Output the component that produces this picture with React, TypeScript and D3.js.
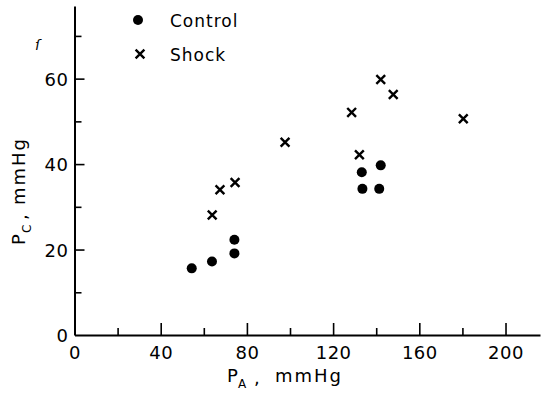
import React, { useRef, useEffect } from 'react';
import * as d3 from 'd3';

// P_A (mmHg) vs P_C (mmHg)
const controlPA = [54.4, 63.8, 74.2, 74.2, 133.3, 142.1, 133.6, 141.4];
const controlPC = [15.6, 17.2, 22.3, 19.1, 38.1, 39.7, 34.2, 34.2];

const shockPA = [63.9, 67.5, 74.5, 97.7, 128.6, 132.2, 142.1, 147.9, 180.4];
const shockPC = [28.1, 34.0, 35.7, 45.1, 52.1, 42.2, 59.8, 56.3, 50.6];

const xTicks = [0, 40, 80, 120, 160, 200];
const yTicks = [0, 20, 40, 60];

const FONT = 'DejaVu Sans, Liberation Sans, sans-serif';

function App() {
  const svgRef = useRef<SVGSVGElement>(null);

  useEffect(() => {
    const svg = d3.select(svgRef.current);
    svg.selectAll('*').remove();

    const x = d3.scaleLinear().domain([0, 216]).range([74.5, 540]);
    const y = d3.scaleLinear().domain([0, 77]).range([335, 6]);

    // axes
    const xAxis = svg.append('g').attr('transform', `translate(0,${y(0)})`);
    xAxis.call(
      d3.axisBottom(x)
        .tickValues(d3.range(0, 216, 20))
        .tickSize(0)
        .tickFormat(() => '')
    );
    xAxis.select('.domain').attr('stroke', '#000').attr('stroke-width', 2);
    xAxis.selectAll('.tick line')
      .attr('y2', (d: any) => (d % 40 === 0 ? -12 : -7))
      .attr('stroke', '#000')
      .attr('stroke-width', 1.6);
    xAxis.selectAll('.tick')
      .append('text')
      .attr('y', 24)
      .attr('fill', '#000')
      .attr('font-family', FONT)
      .attr('font-size', 18)
      .attr('letter-spacing', 0.5)
      .attr('text-anchor', 'middle')
      .text((d: any) => (xTicks.includes(d) ? String(d) : ''));

    const yAxis = svg.append('g').attr('transform', `translate(${x(0)},0)`);
    yAxis.call(
      d3.axisLeft(y)
        .tickValues(d3.range(0, 78, 10))
        .tickSize(0)
        .tickFormat(() => '')
    );
    yAxis.select('.domain').attr('stroke', '#000').attr('stroke-width', 2);
    yAxis.selectAll('.tick line')
      .attr('x2', (d: any) => (d === 0 ? 0 : d % 20 === 0 ? 10 : 7))
      .attr('stroke', '#000')
      .attr('stroke-width', 1.6);
    yAxis.selectAll('.tick')
      .append('text')
      .attr('x', -6)
      .attr('dy', '0.36em')
      .attr('fill', '#000')
      .attr('font-family', FONT)
      .attr('font-size', 18)
      .attr('letter-spacing', 0.5)
      .attr('text-anchor', 'end')
      .text((d: any) => (yTicks.includes(d) ? String(d) : ''));

    // control: filled dots
    svg.append('g')
      .selectAll('circle')
      .data(controlPA)
      .enter()
      .append('circle')
      .attr('cx', d => x(d))
      .attr('cy', (d, i) => y(controlPC[i]))
      .attr('r', 5)
      .attr('fill', '#000');

    // shock: crosses
    const cross = d3.symbol().type(d3.symbolX).size(52);
    svg.append('g')
      .selectAll('path')
      .data(shockPA)
      .enter()
      .append('path')
      .attr('d', cross)
      .attr('transform', (d, i) => `translate(${x(d)},${y(shockPC[i])})`)
      .attr('fill', 'none')
      .attr('stroke', '#000')
      .attr('stroke-width', 2.4);

    // legend
    const legend = svg.append('g');
    legend.append('circle').attr('cx', 138).attr('cy', 20).attr('r', 5).attr('fill', '#000');
    legend.append('path')
      .attr('d', cross)
      .attr('transform', 'translate(140,54)')
      .attr('fill', 'none')
      .attr('stroke', '#000')
      .attr('stroke-width', 2.4);
    legend.append('text')
      .attr('x', 170).attr('y', 27)
      .attr('font-family', FONT).attr('font-size', 17).attr('letter-spacing', 1)
      .text('Control');
    legend.append('text')
      .attr('x', 170).attr('y', 61)
      .attr('font-family', FONT).attr('font-size', 17).attr('letter-spacing', 1)
      .text('Shock');

    // axis titles
    const xt = svg.append('g').attr('font-family', FONT).attr('font-size', 18);
    xt.append('text').attr('x', 227).attr('y', 382).text('P');
    xt.append('text').attr('x', 238).attr('y', 388).attr('font-size', 12).text('A');
    xt.append('text').attr('x', 254).attr('y', 384).text(',');
    xt.append('text').attr('x', 275).attr('y', 382).attr('letter-spacing', 2).text('mmHg');

    const yt = svg.append('g')
      .attr('transform', 'translate(25,0) rotate(-90)')
      .attr('font-family', FONT).attr('font-size', 18);
    yt.append('text').attr('x', -245).attr('y', 0).text('P');
    yt.append('text').attr('x', -233).attr('y', 6).attr('font-size', 12).text('C');
    yt.append('text').attr('x', -220).attr('y', 2).text(',');
    yt.append('text').attr('x', -205).attr('y', 0).attr('letter-spacing', 2).text('mmHg');

    // stray mark from the scan
    svg.append('text')
      .attr('x', 35).attr('y', 50)
      .attr('font-family', FONT).attr('font-size', 14).attr('font-style', 'italic')
      .text('ſ');
  }, []);

  return (
    <svg
      ref={svgRef}
      width={542}
      height={394}
      style={{ position: 'absolute', left: 0, top: 0, background: '#fff' }}
    />
  );
}

export default App;
